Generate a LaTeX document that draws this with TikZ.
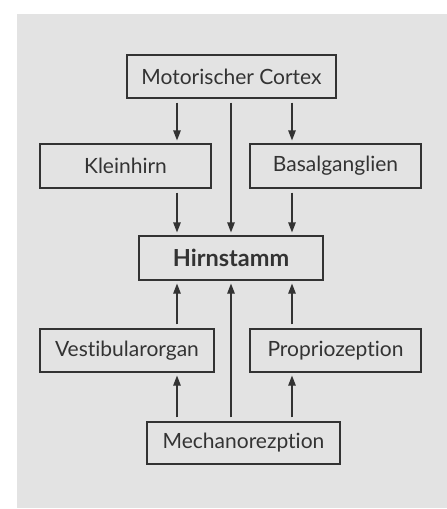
\documentclass[tikz,border=0pt]{standalone}
\usepackage{fontspec}
\setmainfont{Lato}[Ligatures={NoCommon,NoRare}]
\usetikzlibrary{arrows.meta}
\definecolor{bg}{HTML}{E3E3E3}
\definecolor{ink}{HTML}{333333}
\begin{document}
\begin{tikzpicture}[x=1pt,y=-1pt,
  box/.style={draw=ink,line width=1.2pt,text=ink,inner sep=0pt,font=\fontsize{21}{23}\selectfont},
  arr/.style={draw=ink,line width=1.2pt,-{Triangle[length=10pt,width=7.5pt]},shorten <=4pt,shorten >=3pt}]
\useasboundingbox (0,0) rectangle (447,509);
\fill[white] (0,0) rectangle (447,509);
\fill[bg] (17,14) rectangle (447,508);
\node[box,minimum width=209pt,minimum height=43pt] (M) at (231.5,76.5) {Motorischer Cortex};
\node[box,minimum width=171pt,minimum height=44pt] (K) at (125.5,166) {Kleinhirn};
\node[box,minimum width=171pt,minimum height=44pt] (B) at (335.5,166) {Basalganglien};
\node[box,minimum width=184pt,minimum height=44pt,font=\fontsize{23.5}{25}\selectfont\bfseries] (H) at (231,258) {Hirnstamm};
\node[box,minimum width=174pt,minimum height=43pt] (V) at (127,350.5) {Vestibularorgan};
\node[box,minimum width=171pt,minimum height=43pt] (P) at (335.5,350.5) {Propriozeption};
\node[box,minimum width=193pt,minimum height=42pt] (E) at (243.5,443) {Mechanorezption};
\coordinate (L) at (177,0);
\coordinate (C) at (231,0);
\coordinate (R) at (292,0);
\draw[arr] (M.south -| L) -- (K.north -| L);
\draw[arr] (M.south -| C) -- (H.north -| C);
\draw[arr] (M.south -| R) -- (B.north -| R);
\draw[arr] (K.south -| L) -- (H.north -| L);
\draw[arr] (B.south -| R) -- (H.north -| R);
\draw[arr] (V.north -| L) -- (H.south -| L);
\draw[arr] (P.north -| R) -- (H.south -| R);
\draw[arr] (E.north -| C) -- (H.south -| C);
\draw[arr] (E.north -| L) -- (V.south -| L);
\draw[arr] (E.north -| R) -- (P.south -| R);
\end{tikzpicture}
\end{document}
